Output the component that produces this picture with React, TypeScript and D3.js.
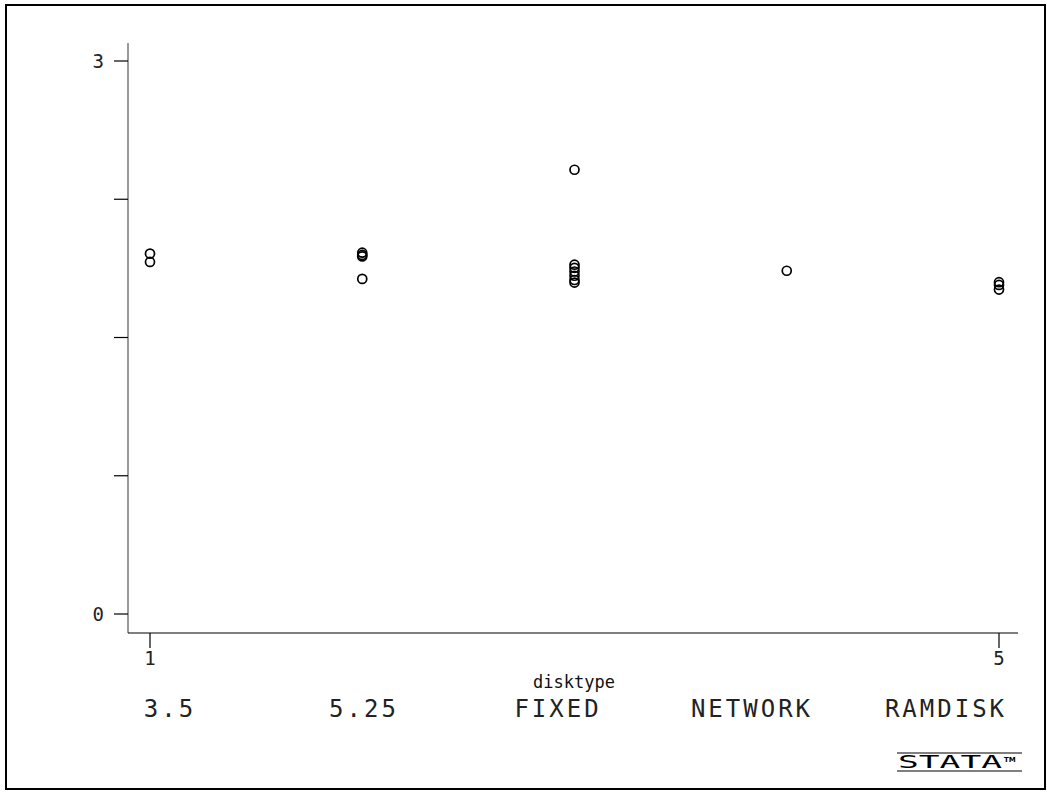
import React, { useEffect, useRef } from "react";
import * as d3 from "d3";

// disktype categories (coded 1..5) and their labels
const categoryCodes = [1, 2, 3, 4, 5];
const categoryLabels = ["3.5", "5.25", "FIXED", "NETWORK", "RAMDISK"];

// observed values per disktype
const values35 = [1.955, 1.91];
const values525 = [1.96, 1.948, 1.94, 1.818];
const valuesFixed = [2.41, 1.895, 1.878, 1.858, 1.835, 1.812, 1.798];
const valuesNetwork = [1.862];
const valuesRamdisk = [1.8, 1.785, 1.76];

const yTicks = [0, 0.75, 1.5, 2.25, 3];
const yTickLabels = ["0", "", "", "", "3"];
const xTicks = [1, 5];

const W = 1047;
const H = 792;

export default function App() {
  const ref = useRef<SVGSVGElement | null>(null);

  useEffect(() => {
    const svg = d3.select(ref.current);
    svg.selectAll("*").remove();

    const font = "'DejaVu Sans Mono', monospace";

    // outer frame
    svg
      .append("rect")
      .attr("x", 6)
      .attr("y", 5)
      .attr("width", 1039)
      .attr("height", 784)
      .attr("fill", "none")
      .attr("stroke", "#000")
      .attr("stroke-width", 2);

    const x = d3.scaleLinear().domain([1, 5]).range([150, 999]);
    const y = d3.scaleLinear().domain([0, 3]).range([614, 61]);
    // value labels are spread evenly across the bottom band
    const xLabel = d3.scalePoint<string>().domain(categoryLabels).range([170, 946]);

    const axisLeftX = 128;
    const axisBottomY = 633;

    // y axis line
    svg
      .append("line")
      .attr("x1", axisLeftX)
      .attr("x2", axisLeftX)
      .attr("y1", 43)
      .attr("y2", axisBottomY)
      .attr("stroke", "#777")
      .attr("stroke-width", 1.5);

    // x axis line
    svg
      .append("line")
      .attr("x1", axisLeftX)
      .attr("x2", 1018)
      .attr("y1", axisBottomY)
      .attr("y2", axisBottomY)
      .attr("stroke", "#000")
      .attr("stroke-width", 1.2);

    // y ticks
    yTicks.forEach((t, i) => {
      svg
        .append("line")
        .attr("x1", axisLeftX - 14)
        .attr("x2", axisLeftX)
        .attr("y1", y(t))
        .attr("y2", y(t))
        .attr("stroke", "#000")
        .attr("stroke-width", 1.2);
      if (yTickLabels[i]) {
        svg
          .append("text")
          .attr("x", 104)
          .attr("y", y(t))
          .attr("dy", "0.35em")
          .attr("text-anchor", "end")
          .attr("font-family", font)
          .attr("font-size", 19)
          .attr("fill", "#222")
          .text(yTickLabels[i]);
      }
    });

    // x ticks
    xTicks.forEach((t) => {
      svg
        .append("line")
        .attr("x1", x(t))
        .attr("x2", x(t))
        .attr("y1", axisBottomY)
        .attr("y2", axisBottomY + 15)
        .attr("stroke", "#000")
        .attr("stroke-width", 1.2);
      svg
        .append("text")
        .attr("x", x(t))
        .attr("y", 665)
        .attr("text-anchor", "middle")
        .attr("font-family", font)
        .attr("font-size", 19)
        .attr("fill", "#222")
        .text(String(t));
    });

    // axis title
    svg
      .append("text")
      .attr("x", 574)
      .attr("y", 688)
      .attr("text-anchor", "middle")
      .attr("font-family", font)
      .attr("font-size", 17)
      .attr("fill", "#111")
      .text("disktype");

    // category labels
    categoryLabels.forEach((lab) => {
      svg
        .append("text")
        .attr("x", xLabel(lab))
        .attr("y", 717)
        .attr("text-anchor", "middle")
        .attr("font-family", font)
        .attr("font-size", 24)
        .attr("letter-spacing", 3)
        .attr("fill", "#222")
        .text(lab);
    });

    // points
    const series = [values35, values525, valuesFixed, valuesNetwork, valuesRamdisk];
    const pts: { c: number; v: number }[] = [];
    series.forEach((vals, i) => vals.forEach((v) => pts.push({ c: categoryCodes[i], v })));

    svg
      .append("g")
      .selectAll("circle")
      .data(pts)
      .enter()
      .append("circle")
      .attr("cx", (d) => x(d.c))
      .attr("cy", (d) => y(d.v))
      .attr("r", 4.5)
      .attr("fill", "none")
      .attr("stroke", "#000")
      .attr("stroke-width", 1.7);

    // logo
    const logo = svg.append("g");
    logo
      .append("line")
      .attr("x1", 897)
      .attr("x2", 1022)
      .attr("y1", 753)
      .attr("y2", 753)
      .attr("stroke", "#000")
      .attr("stroke-width", 1.2);
    logo
      .append("line")
      .attr("x1", 897)
      .attr("x2", 1022)
      .attr("y1", 771)
      .attr("y2", 771)
      .attr("stroke", "#000")
      .attr("stroke-width", 1.2);
    logo
      .append("text")
      .attr("x", 898)
      .attr("y", 768)
      .attr("font-family", font)
      .attr("font-size", 17)
      .attr("textLength", 104)
      .attr("lengthAdjust", "spacingAndGlyphs")
      .attr("fill", "#000")
      .text("STATA");
    logo
      .append("text")
      .attr("x", 1004)
      .attr("y", 762)
      .attr("font-family", "'DejaVu Sans', sans-serif")
      .attr("font-size", 7)
      .attr("font-weight", "bold")
      .attr("fill", "#000")
      .text("TM");
  }, []);

  return (
    <svg
      ref={ref}
      width={W}
      height={H}
      style={{ position: "absolute", left: 0, top: 0, background: "#fff" }}
    />
  );
}
